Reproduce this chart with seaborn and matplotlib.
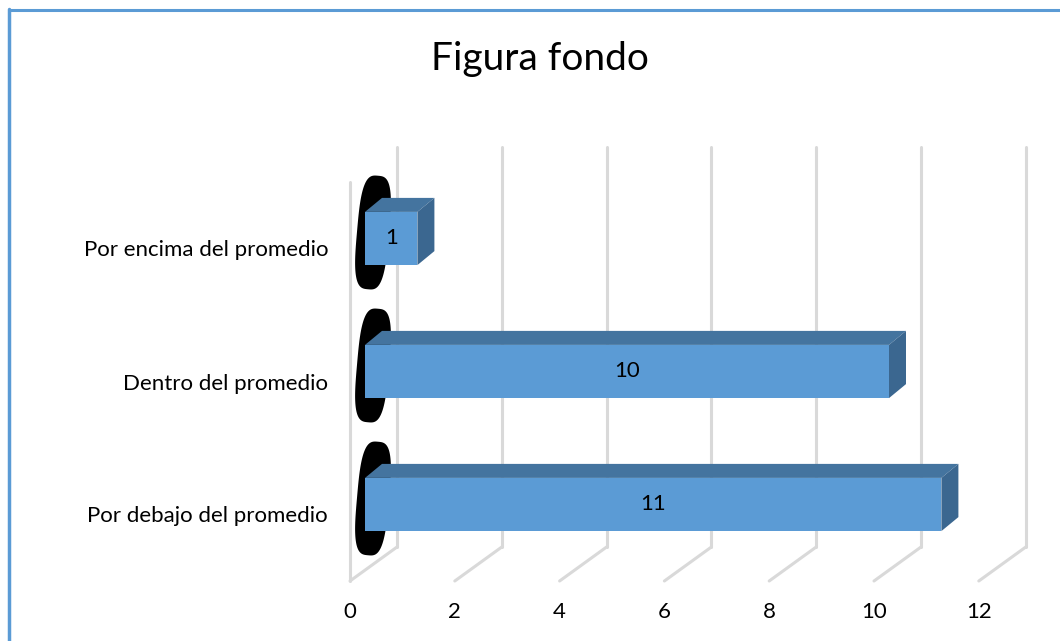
import numpy as np
import pandas as pd
import matplotlib
matplotlib.use("Agg")
import matplotlib.pyplot as plt
import seaborn as sns
from matplotlib.patches import Polygon
from matplotlib.lines import Line2D
from matplotlib.transforms import IdentityTransform

# ---- data ----
categories = ["Por encima del promedio", "Dentro del promedio", "Por debajo del promedio"]
values = [1, 10, 11]
xticks = [0, 2, 4, 6, 8, 10, 12]
title = "Figura fondo"

sns.set_theme(style="white")
plt.rcParams["font.family"] = ["Lato", "DejaVu Sans"]

W, H = 1060, 641
fig = plt.figure(figsize=(W / 100, H / 100), dpi=100)

# axes placement (pixel geometry of front face of bars)
x0_px, ppu = 365.0, 52.4
ax_top_px, ax_bot_px = 158.7, 584.3
ax = fig.add_axes([x0_px / W, (H - ax_bot_px) / H, (12 * ppu) / W, (ax_bot_px - ax_top_px) / H])

df = pd.DataFrame({"cat": categories, "val": values})
sns.barplot(data=df, x="val", y="cat", orient="h", color="#5B9BD5", width=0.4,
            saturation=1, ax=ax, zorder=3, linewidth=0)
ax.set_xlim(0, 12)
ax.set_ylim(2.6, -0.6)
ax.axis("off")

fig.canvas.draw()
ident = IdentityTransform()

def to_px(x, y):
    return ax.transData.transform((x, y))

back_dx = 32
wall_top = H - 147
wall_bot = H - 547
front_bot = H - 581
front_left_top = H - 182
grid_color = "#D9D9D9"
fs = 16

for xv in xticks:
    px = to_px(xv, 0)[0]
    bx = px + back_dx
    fx = px - 15
    fig.add_artist(Line2D([bx, bx], [wall_top, wall_bot], color=grid_color, lw=2.2,
                          transform=ident, zorder=1))
    fig.add_artist(Line2D([bx, fx], [wall_bot, front_bot], color=grid_color, lw=2.2,
                          transform=ident, zorder=1))
    fig.text(fx / W, (H - 612) / H, str(xv), ha="center", va="center",
             fontsize=fs, color="#000000")

# left side wall front edge
px0 = to_px(0, 0)[0] - 15
fig.add_artist(Line2D([px0, px0], [front_left_top, front_bot], color=grid_color, lw=2.2,
                      transform=ident, zorder=1))

# blobs + 3D faces
ddx, ddy = 17, 14
top_col = "#44749F"
side_col = "#3B6790"
ax.set_zorder(5)
ax.patch.set_visible(False)
for i, (p, v) in enumerate(zip(ax.patches, values)):
    bb = p.get_window_extent()
    xa, xb, ya, yb = bb.x0, bb.x1, bb.y0, bb.y1
    cy = (ya + yb) / 2
    # dark end cap blob (superellipse)
    t = np.linspace(0, 2 * np.pi, 300)
    n = 3.2
    ex = 16 * np.sign(np.cos(t)) * np.abs(np.cos(t)) ** (2 / n)
    ey = 57 * np.sign(np.sin(t)) * np.abs(np.sin(t)) ** (2 / n)
    ang = np.deg2rad(-5)
    rx = ex * np.cos(ang) - ey * np.sin(ang)
    ry = ex * np.sin(ang) + ey * np.cos(ang)
    blob = Polygon(np.column_stack([xa + 8 + rx, cy + 6 + ry]), closed=True,
                   facecolor="black", edgecolor="none", transform=ident, zorder=2)
    fig.add_artist(blob)
    top = Polygon([[xa, yb], [xb, yb], [xb + ddx, yb + ddy], [xa + ddx, yb + ddy]],
                  closed=True, facecolor=top_col, edgecolor="none", transform=ident, zorder=4)
    side = Polygon([[xb, ya], [xb, yb], [xb + ddx, yb + ddy], [xb + ddx, ya + ddy]],
                   closed=True, facecolor=side_col, edgecolor="none", transform=ident, zorder=4)
    fig.add_artist(top)
    fig.add_artist(side)
    p.set_zorder(5)
    ax.text(v / 2, i, str(v), ha="center", va="center", fontsize=fs, color="#000000", zorder=6)
    fig.text(328 / W, (cy - 12) / H, categories[i], ha="right", va="center",
             fontsize=fs, color="#000000")

fig.text(540 / W, (H - 59) / H, title, ha="center", va="center", fontsize=28, color="#000000")

# chart border
fig.add_artist(Line2D([9, 9], [0, H - 9], color="#5B9BD5", lw=2.5, transform=ident))
fig.add_artist(Line2D([9, W], [H - 10, H - 10], color="#5B9BD5", lw=2.2, transform=ident))

fig.savefig("out.png", dpi=100, facecolor="white")
